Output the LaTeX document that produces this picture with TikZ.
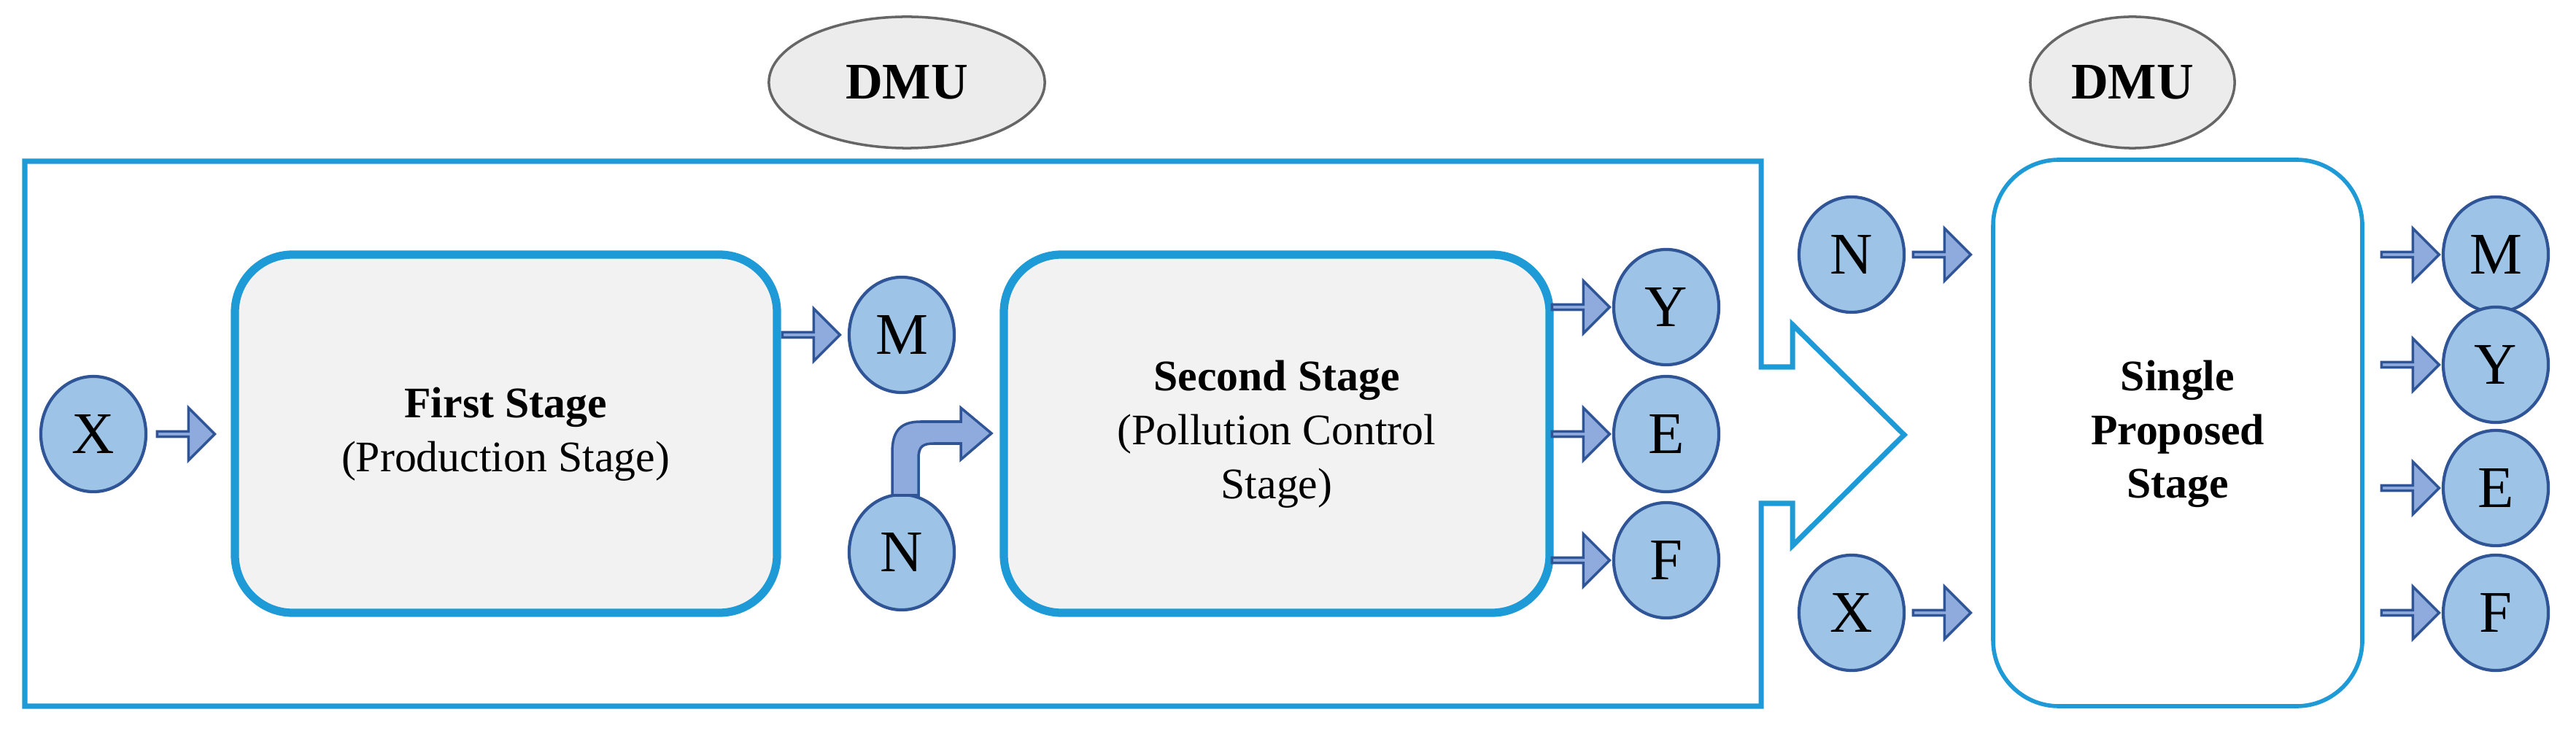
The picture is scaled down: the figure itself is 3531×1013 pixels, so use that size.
\documentclass[tikz,border=0pt]{standalone}
\usepackage{fontspec}
\setmainfont{Liberation Serif}
\usetikzlibrary{shapes.geometric,shapes.arrows}
\definecolor{cfill}{HTML}{9DC3E6}
\definecolor{cdraw}{HTML}{2F5597}
\definecolor{afill}{HTML}{8FAADC}
\definecolor{bblue}{HTML}{1E9AD6}
\definecolor{bfill}{HTML}{F2F2F2}
\begin{document}
\begin{tikzpicture}[x=0.01cm,y=-0.01cm,
  circ/.style={ellipse,draw=cdraw,fill=cfill,line width=1.2pt,minimum width=14.4mm,minimum height=15.8mm,inner sep=0pt,font=\fontsize{23}{23}\selectfont},
  dmu/.style={ellipse,draw=gray!80!black,fill=gray!15,line width=1pt,inner sep=0pt,font=\fontsize{20}{20}\selectfont\bfseries},
  stage/.style={rounded corners=7.9mm,draw=bblue,fill=bfill,line width=3.2pt},
  barrow/.style={single arrow,draw=cdraw,fill=afill,line width=1pt,minimum height=7.9mm,minimum width=7.2mm,single arrow head extend=1.6mm,inner sep=0pt,shape border rotate=0},
  lbl/.style={align=center,font=\fontsize{17}{21}\selectfont}]
\useasboundingbox (0,0) rectangle (3531,1013);
% big frame with arrow
\draw[bblue,line width=2pt] (34,221) -- (2414,221) -- (2414,503) -- (2457,503) -- (2457,445) -- (2610,596) -- (2457,748) -- (2457,690) -- (2414,690) -- (2414,968) -- (34,968) -- cycle;
% DMU
\node[dmu,minimum width=37.8mm,minimum height=18mm] (dmu1) at (1243,113) {DMU};
\node[dmu,minimum width=28mm,minimum height=18mm] (dmu2) at (2923,113) {DMU};
% stages
\draw[stage] (322,349) rectangle (1065,840);
\node[lbl] (s1) at (693,595) {\textbf{First Stage}\\(Production Stage)};
\draw[stage] (1376,349) rectangle (2124,840);
\node[lbl] (s2) at (1750,595) {\textbf{Second Stage}\\(Pollution Control\\Stage)};
\draw[rounded corners=9mm,draw=bblue,fill=white,line width=1.6pt] (2732,219) rectangle (3238,968);
\node[lbl] (s3) at (2985,595) {\textbf{Single}\\\textbf{Proposed}\\\textbf{Stage}};
% circles
\node[circ] (X1) at (128,595) {X};
\node[circ] (M1) at (1236,459) {M};
\node[circ] (N1) at (1236,757) {N};
\node[circ] (Y1) at (2284,421) {Y};
\node[circ] (E1) at (2284,595) {E};
\node[circ] (F1) at (2284,768) {F};
\node[circ] (N2) at (2538,349) {N};
\node[circ] (X2) at (2538,840) {X};
\node[circ] (M3) at (3421,349) {M};
\node[circ] (Y3) at (3421,500) {Y};
\node[circ] (E3) at (3421,669) {E};
\node[circ] (F3) at (3421,840) {F};
% block arrows
\node[barrow] (a1) at (253,595) {};
\node[barrow] (a2) at (1110,459) {};
\node[barrow] (a3) at (2165,421) {};
\node[barrow] (a4) at (2165,595) {};
\node[barrow] (a5) at (2165,768) {};
\node[barrow] (a6) at (2660,349) {};
\node[barrow] (a7) at (2660,840) {};
\node[barrow] (a8) at (3302,349) {};
\node[barrow] (a9) at (3302,500) {};
\node[barrow] (a10) at (3302,669) {};
\node[barrow] (a11) at (3302,840) {};
% bent arrow
\draw[draw=cdraw,fill=afill,line width=1pt] (1223,679) -- (1223,620) .. controls (1223,590) and (1235,578) .. (1262,578) -- (1317,578) -- (1317,559) -- (1359,594) -- (1317,630) -- (1317,608) -- (1280,608) .. controls (1265,608) and (1259,612) .. (1259,628) -- (1259,679) -- cycle;
\end{tikzpicture}
\end{document}
